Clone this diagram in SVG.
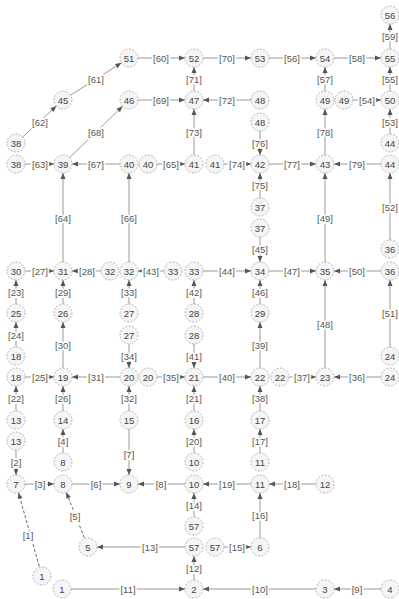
<svg xmlns="http://www.w3.org/2000/svg" width="399" height="599" viewBox="0 0 399 599">
<style>
.n circle{fill:#f5f5f5;stroke:#aaa;stroke-width:0.9;stroke-dasharray:2 1.5}
.n text,.e text{font-family:"Liberation Sans",Arial,sans-serif;font-size:9.5px;text-anchor:middle;dominant-baseline:central}
.n text{fill:#444}
.e line{stroke:#999;stroke-width:1;marker-end:url(#a)}
.e line.d{stroke:#666;stroke-dasharray:3 2}
.e text{fill:#555;stroke:#fff;stroke-width:3.5;paint-order:stroke;stroke-linejoin:round}
</style>
<defs>
<marker id="a" viewBox="0 -3 6 6" refX="15" refY="0" markerWidth="6" markerHeight="6" markerUnits="userSpaceOnUse" orient="auto" overflow="visible"><path d="M0,-2.5L6,0L0,2.5z" fill="#555"/></marker>
</defs>
<rect width="399" height="599" fill="#fff"/>
<g id="connectors">
<g class="e"><line x1="390" y1="58" x2="390" y2="15"/><text x="390" y="36">[59]</text></g>
<g class="e"><line x1="129" y1="58" x2="194" y2="58"/><text x="161" y="58">[60]</text></g>
<g class="e"><line x1="194" y1="58" x2="260" y2="58"/><text x="227" y="58">[70]</text></g>
<g class="e"><line x1="260" y1="58" x2="325" y2="58"/><text x="292" y="58">[56]</text></g>
<g class="e"><line x1="325" y1="58" x2="390" y2="58"/><text x="357" y="58">[58]</text></g>
<g class="e"><line x1="325" y1="100" x2="325" y2="58"/><text x="325" y="79">[57]</text></g>
<g class="e"><line x1="390" y1="100" x2="390" y2="58"/><text x="390" y="79">[55]</text></g>
<g class="e"><line x1="344" y1="100" x2="390" y2="100"/><text x="367" y="100">[54]</text></g>
<g class="e"><line x1="390" y1="143" x2="390" y2="100"/><text x="390" y="122">[53]</text></g>
<g class="e"><line x1="325" y1="164" x2="325" y2="100"/><text x="325" y="132">[78]</text></g>
<g class="e"><line x1="63" y1="100" x2="129" y2="58"/><text x="96" y="79">[61]</text></g>
<g class="e"><line x1="16" y1="143" x2="63" y2="100"/><text x="40" y="122">[62]</text></g>
<g class="e"><line x1="63" y1="164" x2="129" y2="100"/><text x="96" y="132">[68]</text></g>
<g class="e"><line x1="129" y1="100" x2="194" y2="100"/><text x="161" y="100">[69]</text></g>
<g class="e"><line x1="260" y1="100" x2="194" y2="100"/><text x="227" y="100">[72]</text></g>
<g class="e"><line x1="194" y1="100" x2="194" y2="58"/><text x="194" y="79">[71]</text></g>
<g class="e"><line x1="194" y1="164" x2="194" y2="100"/><text x="194" y="132">[73]</text></g>
<g class="e"><line x1="260" y1="122" x2="260" y2="164"/><text x="260" y="143">[76]</text></g>
<g class="e"><line x1="16" y1="164" x2="63" y2="164"/><text x="40" y="164">[63]</text></g>
<g class="e"><line x1="129" y1="164" x2="63" y2="164"/><text x="96" y="164">[67]</text></g>
<g class="e"><line x1="148" y1="164" x2="194" y2="164"/><text x="171" y="164">[65]</text></g>
<g class="e"><line x1="215" y1="164" x2="260" y2="164"/><text x="237" y="164">[74]</text></g>
<g class="e"><line x1="260" y1="164" x2="325" y2="164"/><text x="292" y="164">[77]</text></g>
<g class="e"><line x1="390" y1="164" x2="325" y2="164"/><text x="357" y="164">[79]</text></g>
<g class="e"><line x1="260" y1="207" x2="260" y2="164"/><text x="260" y="185">[75]</text></g>
<g class="e"><line x1="325" y1="271" x2="325" y2="164"/><text x="325" y="218">[49]</text></g>
<g class="e"><line x1="390" y1="249" x2="390" y2="164"/><text x="390" y="207">[52]</text></g>
<g class="e"><line x1="63" y1="271" x2="63" y2="164"/><text x="63" y="218">[64]</text></g>
<g class="e"><line x1="129" y1="271" x2="129" y2="164"/><text x="129" y="218">[66]</text></g>
<g class="e"><line x1="260" y1="228" x2="260" y2="271"/><text x="260" y="249">[45]</text></g>
<g class="e"><line x1="16" y1="271" x2="63" y2="271"/><text x="40" y="271">[27]</text></g>
<g class="e"><line x1="110" y1="271" x2="63" y2="271"/><text x="87" y="271">[28]</text></g>
<g class="e"><line x1="173" y1="271" x2="129" y2="271"/><text x="151" y="271">[43]</text></g>
<g class="e"><line x1="194" y1="271" x2="260" y2="271"/><text x="227" y="271">[44]</text></g>
<g class="e"><line x1="260" y1="271" x2="325" y2="271"/><text x="292" y="271">[47]</text></g>
<g class="e"><line x1="390" y1="271" x2="325" y2="271"/><text x="357" y="271">[50]</text></g>
<g class="e"><line x1="390" y1="356" x2="390" y2="271"/><text x="390" y="313">[51]</text></g>
<g class="e"><line x1="325" y1="377" x2="325" y2="271"/><text x="325" y="324">[48]</text></g>
<g class="e"><line x1="260" y1="313" x2="260" y2="271"/><text x="260" y="292">[46]</text></g>
<g class="e"><line x1="194" y1="313" x2="194" y2="271"/><text x="194" y="292">[42]</text></g>
<g class="e"><line x1="129" y1="313" x2="129" y2="271"/><text x="129" y="292">[33]</text></g>
<g class="e"><line x1="63" y1="313" x2="63" y2="271"/><text x="63" y="292">[29]</text></g>
<g class="e"><line x1="16" y1="313" x2="16" y2="271"/><text x="16" y="292">[23]</text></g>
<g class="e"><line x1="16" y1="356" x2="16" y2="313"/><text x="16" y="335">[24]</text></g>
<g class="e"><line x1="63" y1="377" x2="63" y2="313"/><text x="63" y="345">[30]</text></g>
<g class="e"><line x1="129" y1="335" x2="129" y2="377"/><text x="129" y="356">[34]</text></g>
<g class="e"><line x1="194" y1="335" x2="194" y2="377"/><text x="194" y="356">[41]</text></g>
<g class="e"><line x1="260" y1="377" x2="260" y2="313"/><text x="260" y="345">[39]</text></g>
<g class="e"><line x1="16" y1="377" x2="63" y2="377"/><text x="40" y="377">[25]</text></g>
<g class="e"><line x1="129" y1="377" x2="63" y2="377"/><text x="96" y="377">[31]</text></g>
<g class="e"><line x1="148" y1="377" x2="194" y2="377"/><text x="171" y="377">[35]</text></g>
<g class="e"><line x1="194" y1="377" x2="260" y2="377"/><text x="227" y="377">[40]</text></g>
<g class="e"><line x1="280" y1="377" x2="325" y2="377"/><text x="302" y="377">[37]</text></g>
<g class="e"><line x1="390" y1="377" x2="325" y2="377"/><text x="357" y="377">[36]</text></g>
<g class="e"><line x1="16" y1="420" x2="16" y2="377"/><text x="16" y="398">[22]</text></g>
<g class="e"><line x1="63" y1="420" x2="63" y2="377"/><text x="63" y="398">[26]</text></g>
<g class="e"><line x1="129" y1="420" x2="129" y2="377"/><text x="129" y="398">[32]</text></g>
<g class="e"><line x1="194" y1="420" x2="194" y2="377"/><text x="194" y="398">[21]</text></g>
<g class="e"><line x1="260" y1="420" x2="260" y2="377"/><text x="260" y="398">[38]</text></g>
<g class="e"><line x1="63" y1="462" x2="63" y2="420"/><text x="63" y="441">[4]</text></g>
<g class="e"><line x1="194" y1="462" x2="194" y2="420"/><text x="194" y="441">[20]</text></g>
<g class="e"><line x1="260" y1="462" x2="260" y2="420"/><text x="260" y="441">[17]</text></g>
<g class="e"><line x1="16" y1="441" x2="16" y2="484"/><text x="16" y="462">[2]</text></g>
<g class="e"><line x1="129" y1="420" x2="129" y2="484"/><text x="129" y="454">[7]</text></g>
<g class="e"><line x1="16" y1="484" x2="63" y2="484"/><text x="40" y="484">[3]</text></g>
<g class="e"><line x1="63" y1="484" x2="129" y2="484"/><text x="96" y="484">[6]</text></g>
<g class="e"><line x1="194" y1="484" x2="129" y2="484"/><text x="161" y="484">[8]</text></g>
<g class="e"><line x1="260" y1="484" x2="194" y2="484"/><text x="227" y="484">[19]</text></g>
<g class="e"><line x1="325" y1="484" x2="260" y2="484"/><text x="292" y="484">[18]</text></g>
<g class="e"><line x1="194" y1="526" x2="194" y2="484"/><text x="194" y="505">[14]</text></g>
<g class="e"><line x1="260" y1="547" x2="260" y2="484"/><text x="260" y="515">[16]</text></g>
<g class="e"><line x1="215" y1="547" x2="260" y2="547"/><text x="237" y="547">[15]</text></g>
<g class="e"><line x1="194" y1="589" x2="194" y2="547"/><text x="194" y="568">[12]</text></g>
<g class="e"><line x1="194" y1="547" x2="88" y2="547"/><text x="150" y="547">[13]</text></g>
<g class="e"><line class="d" x1="88" y1="547" x2="63" y2="484"/><text x="75" y="516">[5]</text></g>
<g class="e"><line class="d" x1="42" y1="576" x2="16" y2="484"/><text x="28" y="535">[1]</text></g>
<g class="e"><line x1="62" y1="589" x2="194" y2="589"/><text x="128" y="589">[11]</text></g>
<g class="e"><line x1="325" y1="589" x2="194" y2="589"/><text x="260" y="589">[10]</text></g>
<g class="e"><line x1="390" y1="589" x2="325" y2="589"/><text x="357" y="589">[9]</text></g>
</g>
<g id="n56" class="n"><circle cx="390" cy="15" r="9"/><text x="390" y="15">56</text></g>
<g id="n51" class="n"><circle cx="129" cy="58" r="9"/><text x="129" y="58">51</text></g>
<g id="n52" class="n"><circle cx="194" cy="58" r="9"/><text x="194" y="58">52</text></g>
<g id="n53" class="n"><circle cx="260" cy="58" r="9"/><text x="260" y="58">53</text></g>
<g id="n54" class="n"><circle cx="325" cy="58" r="9"/><text x="325" y="58">54</text></g>
<g id="n55" class="n"><circle cx="390" cy="58" r="9"/><text x="390" y="58">55</text></g>
<g id="n45" class="n"><circle cx="63" cy="100" r="9"/><text x="63" y="100">45</text></g>
<g id="n46" class="n"><circle cx="129" cy="100" r="9"/><text x="129" y="100">46</text></g>
<g id="n47" class="n"><circle cx="194" cy="100" r="9"/><text x="194" y="100">47</text></g>
<g id="n48a" class="n"><circle cx="260" cy="100" r="9"/><text x="260" y="100">48</text></g>
<g id="n49a" class="n"><circle cx="325" cy="100" r="9"/><text x="325" y="100">49</text></g>
<g id="n49b" class="n"><circle cx="344" cy="100" r="9"/><text x="344" y="100">49</text></g>
<g id="n50" class="n"><circle cx="390" cy="100" r="9"/><text x="390" y="100">50</text></g>
<g id="n48b" class="n"><circle cx="260" cy="122" r="9"/><text x="260" y="122">48</text></g>
<g id="n38a" class="n"><circle cx="16" cy="143" r="9"/><text x="16" y="143">38</text></g>
<g id="n44a" class="n"><circle cx="390" cy="143" r="9"/><text x="390" y="143">44</text></g>
<g id="n38b" class="n"><circle cx="16" cy="164" r="9"/><text x="16" y="164">38</text></g>
<g id="n39" class="n"><circle cx="63" cy="164" r="9"/><text x="63" y="164">39</text></g>
<g id="n40a" class="n"><circle cx="129" cy="164" r="9"/><text x="129" y="164">40</text></g>
<g id="n40b" class="n"><circle cx="148" cy="164" r="9"/><text x="148" y="164">40</text></g>
<g id="n41a" class="n"><circle cx="194" cy="164" r="9"/><text x="194" y="164">41</text></g>
<g id="n41b" class="n"><circle cx="215" cy="164" r="9"/><text x="215" y="164">41</text></g>
<g id="n42" class="n"><circle cx="260" cy="164" r="9"/><text x="260" y="164">42</text></g>
<g id="n43" class="n"><circle cx="325" cy="164" r="9"/><text x="325" y="164">43</text></g>
<g id="n44b" class="n"><circle cx="390" cy="164" r="9"/><text x="390" y="164">44</text></g>
<g id="n37a" class="n"><circle cx="260" cy="207" r="9"/><text x="260" y="207">37</text></g>
<g id="n37b" class="n"><circle cx="260" cy="228" r="9"/><text x="260" y="228">37</text></g>
<g id="n36a" class="n"><circle cx="390" cy="249" r="9"/><text x="390" y="249">36</text></g>
<g id="n30" class="n"><circle cx="16" cy="271" r="9"/><text x="16" y="271">30</text></g>
<g id="n31" class="n"><circle cx="63" cy="271" r="9"/><text x="63" y="271">31</text></g>
<g id="n32a" class="n"><circle cx="110" cy="271" r="9"/><text x="110" y="271">32</text></g>
<g id="n32b" class="n"><circle cx="129" cy="271" r="9"/><text x="129" y="271">32</text></g>
<g id="n33a" class="n"><circle cx="173" cy="271" r="9"/><text x="173" y="271">33</text></g>
<g id="n33b" class="n"><circle cx="194" cy="271" r="9"/><text x="194" y="271">33</text></g>
<g id="n34" class="n"><circle cx="260" cy="271" r="9"/><text x="260" y="271">34</text></g>
<g id="n35" class="n"><circle cx="325" cy="271" r="9"/><text x="325" y="271">35</text></g>
<g id="n36b" class="n"><circle cx="390" cy="271" r="9"/><text x="390" y="271">36</text></g>
<g id="n25" class="n"><circle cx="16" cy="313" r="9"/><text x="16" y="313">25</text></g>
<g id="n26" class="n"><circle cx="63" cy="313" r="9"/><text x="63" y="313">26</text></g>
<g id="n27a" class="n"><circle cx="129" cy="313" r="9"/><text x="129" y="313">27</text></g>
<g id="n28a" class="n"><circle cx="194" cy="313" r="9"/><text x="194" y="313">28</text></g>
<g id="n29" class="n"><circle cx="260" cy="313" r="9"/><text x="260" y="313">29</text></g>
<g id="n27b" class="n"><circle cx="129" cy="335" r="9"/><text x="129" y="335">27</text></g>
<g id="n28b" class="n"><circle cx="194" cy="335" r="9"/><text x="194" y="335">28</text></g>
<g id="n18a" class="n"><circle cx="16" cy="356" r="9"/><text x="16" y="356">18</text></g>
<g id="n24a" class="n"><circle cx="390" cy="356" r="9"/><text x="390" y="356">24</text></g>
<g id="n18b" class="n"><circle cx="16" cy="377" r="9"/><text x="16" y="377">18</text></g>
<g id="n19" class="n"><circle cx="63" cy="377" r="9"/><text x="63" y="377">19</text></g>
<g id="n20a" class="n"><circle cx="129" cy="377" r="9"/><text x="129" y="377">20</text></g>
<g id="n20b" class="n"><circle cx="148" cy="377" r="9"/><text x="148" y="377">20</text></g>
<g id="n21" class="n"><circle cx="194" cy="377" r="9"/><text x="194" y="377">21</text></g>
<g id="n22a" class="n"><circle cx="260" cy="377" r="9"/><text x="260" y="377">22</text></g>
<g id="n22b" class="n"><circle cx="280" cy="377" r="9"/><text x="280" y="377">22</text></g>
<g id="n23" class="n"><circle cx="325" cy="377" r="9"/><text x="325" y="377">23</text></g>
<g id="n24b" class="n"><circle cx="390" cy="377" r="9"/><text x="390" y="377">24</text></g>
<g id="n13a" class="n"><circle cx="16" cy="420" r="9"/><text x="16" y="420">13</text></g>
<g id="n14" class="n"><circle cx="63" cy="420" r="9"/><text x="63" y="420">14</text></g>
<g id="n15" class="n"><circle cx="129" cy="420" r="9"/><text x="129" y="420">15</text></g>
<g id="n16" class="n"><circle cx="194" cy="420" r="9"/><text x="194" y="420">16</text></g>
<g id="n17" class="n"><circle cx="260" cy="420" r="9"/><text x="260" y="420">17</text></g>
<g id="n13b" class="n"><circle cx="16" cy="441" r="9"/><text x="16" y="441">13</text></g>
<g id="n8a" class="n"><circle cx="63" cy="462" r="9"/><text x="63" y="462">8</text></g>
<g id="n10a" class="n"><circle cx="194" cy="462" r="9"/><text x="194" y="462">10</text></g>
<g id="n11a" class="n"><circle cx="260" cy="462" r="9"/><text x="260" y="462">11</text></g>
<g id="n7" class="n"><circle cx="16" cy="484" r="9"/><text x="16" y="484">7</text></g>
<g id="n8b" class="n"><circle cx="63" cy="484" r="9"/><text x="63" y="484">8</text></g>
<g id="n9" class="n"><circle cx="129" cy="484" r="9"/><text x="129" y="484">9</text></g>
<g id="n10b" class="n"><circle cx="194" cy="484" r="9"/><text x="194" y="484">10</text></g>
<g id="n11b" class="n"><circle cx="260" cy="484" r="9"/><text x="260" y="484">11</text></g>
<g id="n12" class="n"><circle cx="325" cy="484" r="9"/><text x="325" y="484">12</text></g>
<g id="n57a" class="n"><circle cx="194" cy="526" r="9"/><text x="194" y="526">57</text></g>
<g id="n5" class="n"><circle cx="88" cy="547" r="9"/><text x="88" y="547">5</text></g>
<g id="n57b" class="n"><circle cx="194" cy="547" r="9"/><text x="194" y="547">57</text></g>
<g id="n57c" class="n"><circle cx="215" cy="547" r="9"/><text x="215" y="547">57</text></g>
<g id="n6" class="n"><circle cx="260" cy="547" r="9"/><text x="260" y="547">6</text></g>
<g id="n1a" class="n"><circle cx="42" cy="576" r="9"/><text x="42" y="576">1</text></g>
<g id="n1b" class="n"><circle cx="62" cy="589" r="9"/><text x="62" y="589">1</text></g>
<g id="n2" class="n"><circle cx="194" cy="589" r="9"/><text x="194" y="589">2</text></g>
<g id="n3" class="n"><circle cx="325" cy="589" r="9"/><text x="325" y="589">3</text></g>
<g id="n4" class="n"><circle cx="390" cy="589" r="9"/><text x="390" y="589">4</text></g>
</svg>
